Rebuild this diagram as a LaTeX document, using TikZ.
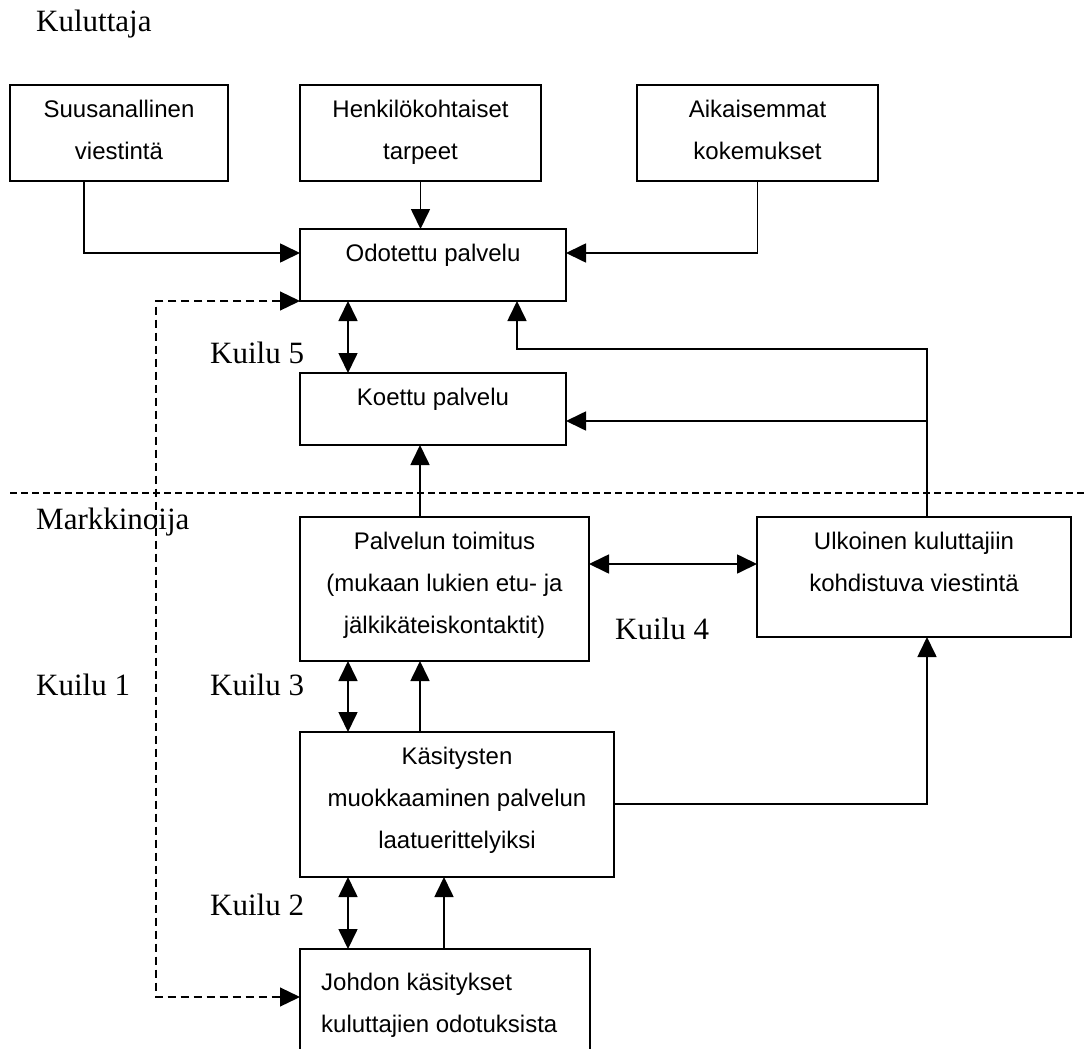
\documentclass[tikz,border=0pt]{standalone}
\usepackage{fontspec}
\setmainfont{Liberation Serif}
\newfontfamily\arialf{Liberation Sans}
\usetikzlibrary{arrows.meta,calc}
\newcommand\tstrut{\rule{0pt}{24pt}}
\begin{document}
\begin{tikzpicture}[x=1pt,y=-1pt,
  box/.style={draw, line width=2pt, inner sep=0pt, outer sep=0pt, anchor=north west},
  btxt/.style={anchor=north, inner sep=0pt, align=center, font=\arialf\fontsize{24}{42}\selectfont},
  lbl/.style={anchor=base west, inner sep=0pt, font=\fontsize{31}{36}\selectfont},
  conn/.style={line width=1.7pt},
  arr/.style={conn, -{Triangle[length=20pt,width=19pt]}},
  darr/.style={conn, {Triangle[length=20pt,width=19pt]}-{Triangle[length=20pt,width=19pt]}},
  dasharr/.style={line width=1.3pt, dash pattern=on 8pt off 5pt, {Triangle[length=20pt,width=19pt]}-{Triangle[length=20pt,width=19pt]}},
  sepline/.style={line width=1.4pt, dash pattern=on 7pt off 4pt},
]
\clip (0,0) rectangle (1085,1049);
% boxes
\node[box, minimum width=218pt, minimum height=96pt] (suu) at (10,85) {};
\node[box, minimum width=241pt, minimum height=96pt] (hen) at (300,85) {};
\node[box, minimum width=241pt, minimum height=96pt] (aik) at (637,85) {};
\node[box, minimum width=266pt, minimum height=72pt] (odo) at (300,229) {};
\node[box, minimum width=266pt, minimum height=72pt] (koe) at (300,373) {};
\node[box, minimum width=289pt, minimum height=144pt] (pal) at (300,517) {};
\node[box, minimum width=314pt, minimum height=120pt] (ulk) at (757,517) {};
\node[box, minimum width=314pt, minimum height=145pt] (kas) at (300,732) {};
\node[box, minimum width=290pt, minimum height=130pt] (joh) at (300,949) {};
% box texts
\node[btxt] (suu-t) at ([yshift=-8pt]suu.north) {\tstrut Suusanallinen\\viestintä};
\node[btxt] (hen-t) at ([yshift=-8pt]hen.north) {\tstrut Henkilökohtaiset\\tarpeet};
\node[btxt] (aik-t) at ([yshift=-8pt]aik.north) {\tstrut Aikaisemmat\\kokemukset};
\node[btxt] (odo-t) at ([yshift=-8pt]odo.north) {\tstrut Odotettu palvelu};
\node[btxt] (koe-t) at ([yshift=-8pt]koe.north) {\tstrut Koettu palvelu};
\node[btxt] (pal-t) at ([yshift=-8pt]pal.north) {\tstrut Palvelun toimitus\\(mukaan lukien etu- ja\\jälkikäteiskontaktit)};
\node[btxt] (ulk-t) at ([yshift=-8pt]ulk.north) {\tstrut Ulkoinen kuluttajiin\\kohdistuva viestintä};
\node[btxt] (kas-t) at ([yshift=-8pt]kas.north) {\tstrut Käsitysten\\muokkaaminen palvelun\\laatuerittelyiksi};
\node[btxt, anchor=north west, align=left] (joh-t) at ([xshift=21pt,yshift=-17pt]joh.north west) {\tstrut Johdon käsitykset\\kuluttajien odotuksista};
% labels
\node[lbl] (kul) at (36,32) {Kuluttaja};
\node[lbl] (mar) at (36,529) {Markkinoija};
\node[lbl] (k5) at (210,363) {Kuilu 5};
\node[lbl] (k4) at (615,639) {Kuilu 4};
\node[lbl] (k1) at (36,695) {Kuilu 1};
\node[lbl] (k3) at (210,695) {Kuilu 3};
\node[lbl] (k2) at (210,915) {Kuilu 2};
% separator
\coordinate (sepL) at (10,493);
\coordinate (sepR) at (1085,493);
\draw[sepline] (sepL) -- (sepR);
% connectors
\draw[arr] ([xshift=74pt]suu.south west) |- ([yshift=-24pt]odo.north west);
\draw[arr] (hen.south) -- (hen.south |- odo.north);
\draw[arr] (aik.south) |- ([yshift=-24pt]odo.north east);
\coordinate (dl) at (156,600);
\draw[dasharr] (odo.south west) -| (dl) |- ([yshift=-48pt]joh.north west);
\draw[darr] ([xshift=48pt]odo.south west) -- ([xshift=48pt]koe.north west);
\coordinate (fbx) at ([xshift=170pt]ulk.north west);
\draw[arr] (fbx) -- ++(0,-168) -| ([xshift=217pt]odo.south west);
\coordinate (koeR) at ([yshift=-48pt]koe.north east);
\draw[arr] (fbx |- koeR) -- (koeR);
\draw[arr] ([xshift=120pt]pal.north west) -- ([xshift=120pt]koe.south west);
\draw[darr] ([yshift=-47pt]pal.north east) -- ([yshift=-47pt]ulk.north west);
\draw[darr] ([xshift=48pt]pal.south west) -- ([xshift=48pt]kas.north west);
\draw[arr] ([xshift=120pt]kas.north west) -- ([xshift=120pt]pal.south west);
\draw[arr] ([yshift=-72pt]kas.north east) -| ([xshift=170pt]ulk.south west);
\draw[darr] ([xshift=48pt]kas.south west) -- ([xshift=48pt]joh.north west);
\draw[arr] ([xshift=144pt]joh.north west) -- ([xshift=144pt]kas.south west);
\end{tikzpicture}
\end{document}
